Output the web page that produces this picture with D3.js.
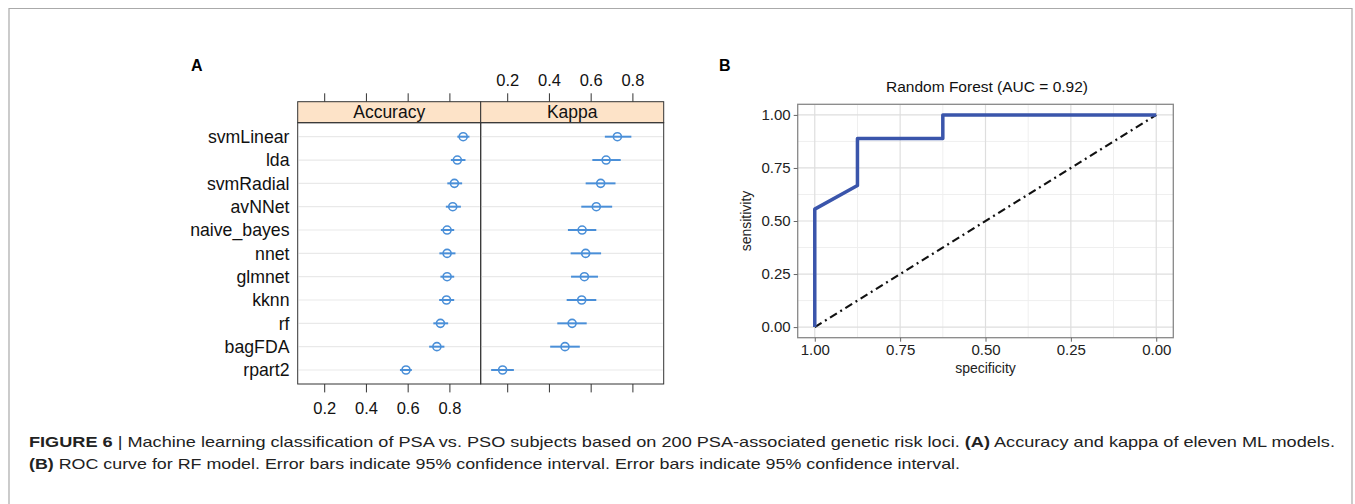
<!DOCTYPE html>
<html>
<head>
<meta charset="utf-8">
<script src="https://cdn.jsdelivr.net/npm/d3@7"></script>
<style>
  body { margin: 0; background: #fff; }
  svg { display: block; font-family: "Liberation Sans", Arial, sans-serif; }
</style>
</head>
<body>
<script>
//Model names, top to bottom.
var models = ["svmLinear", "lda", "svmRadial", "avNNet", "naive_bayes", "nnet", "glmnet", "kknn", "rf", "bagFDA", "rpart2"];

//Accuracy: point estimate and 95% CI.
var accMean = [0.866, 0.838, 0.824, 0.816, 0.789, 0.789, 0.789, 0.786, 0.757, 0.740, 0.592];
var accLow  = [0.838, 0.807, 0.790, 0.783, 0.759, 0.752, 0.757, 0.751, 0.723, 0.703, 0.563];
var accHigh = [0.896, 0.877, 0.861, 0.855, 0.823, 0.829, 0.823, 0.823, 0.794, 0.776, 0.620];

//Kappa: point estimate and 95% CI.
var kapMean = [0.728, 0.674, 0.648, 0.627, 0.559, 0.576, 0.570, 0.557, 0.511, 0.477, 0.178];
var kapLow  = [0.668, 0.608, 0.576, 0.555, 0.491, 0.504, 0.506, 0.485, 0.440, 0.406, 0.123];
var kapHigh = [0.795, 0.744, 0.719, 0.703, 0.627, 0.650, 0.635, 0.627, 0.581, 0.548, 0.232];

//Panel A tick values.
var dotTicks = [0.2, 0.4, 0.6, 0.8];

//ROC curve points (specificity, sensitivity).
var rocSpec = [1, 1, 0.875, 0.875, 0.625, 0.625, 0];
var rocSens = [0, 0.556, 0.667, 0.889, 0.889, 1, 1];

//Panel B tick values and labels.
var rocTicks = [0, 0.25, 0.5, 0.75, 1];
var rocTickLabels = ["0.00", "0.25", "0.50", "0.75", "1.00"];
var rocMinor = [0.125, 0.375, 0.625, 0.875];

var svg = d3.select("body").append("svg").attr("width", 1355).attr("height", 504);

//Outer frame (open at the bottom).
svg.append("path")
   .attr("d", "M9,504 V8.5 H1352 V504")
   .attr("fill", "none")
   .attr("stroke", "#aaa")
   .attr("stroke-width", 1.2);

//---------------- Panel A ----------------
svg.append("text").attr("x", 191).attr("y", 71).attr("font-size", 16).attr("font-weight", "bold").text("A");

var stripTop = 101.7, stripBottom = 122.7, panelBottom = 384;
var panelW = 183;
var panels = [
  {name: "Accuracy", x0: 297.7, mean: accMean, low: accLow, high: accHigh},
  {name: "Kappa", x0: 480.7, mean: kapMean, low: kapLow, high: kapHigh}
];

var xDot = d3.scaleLinear().domain([0.073, 0.950]).range([0, panelW]);
var yDot = d3.scalePoint().domain(models).range([stripBottom, panelBottom]).padding(0.6);
var dotColor = "#4a8fd8";

panels.forEach(function(p, i) {
  var g = svg.append("g").attr("transform", "translate(" + p.x0 + ",0)");

  //Row reference lines.
  g.selectAll(".ref").data(models).enter().append("line")
   .attr("x1", 1).attr("x2", panelW - 1)
   .attr("y1", function(d) { return yDot(d); })
   .attr("y2", function(d) { return yDot(d); })
   .attr("stroke", "#e9e9e9")
   .attr("stroke-width", 1.2);

  //Strip.
  g.append("rect")
   .attr("x", 0).attr("y", stripTop)
   .attr("width", panelW).attr("height", stripBottom - stripTop)
   .attr("fill", "#fde3c8")
   .attr("stroke", "#333");
  g.append("text")
   .attr("x", panelW / 2).attr("y", stripBottom - 4.5)
   .attr("text-anchor", "middle")
   .attr("font-size", 17.5)
   .attr("fill", "#111")
   .text(p.name);

  //Panel border.
  g.append("rect")
   .attr("x", 0).attr("y", stripBottom)
   .attr("width", panelW).attr("height", panelBottom - stripBottom)
   .attr("fill", "none")
   .attr("stroke", "#333");

  //Error bars.
  g.selectAll(".bar").data(models).enter().append("line")
   .attr("x1", function(d, j) { return xDot(p.low[j]); })
   .attr("x2", function(d, j) { return xDot(p.high[j]); })
   .attr("y1", function(d) { return yDot(d); })
   .attr("y2", function(d) { return yDot(d); })
   .attr("stroke", dotColor)
   .attr("stroke-width", 2);

  //Points.
  g.selectAll(".pt").data(models).enter().append("circle")
   .attr("cx", function(d, j) { return xDot(p.mean[j]); })
   .attr("cy", function(d) { return yDot(d); })
   .attr("r", 4)
   .attr("fill", "none")
   .attr("stroke", dotColor)
   .attr("stroke-width", 1.6);

  //Top axis (labels only above Kappa).
  var topAxis = d3.axisTop(xDot).tickValues(dotTicks).tickSize(8.4).tickPadding(7.5)
    .tickFormat(i === 1 ? d3.format(".1f") : function() { return ""; });
  var ta = g.append("g").attr("transform", "translate(0," + stripTop + ")").call(topAxis);

  //Bottom axis (labels only below Accuracy).
  var bottomAxis = d3.axisBottom(xDot).tickValues(dotTicks).tickSize(8.4).tickPadding(10)
    .tickFormat(i === 0 ? d3.format(".1f") : function() { return ""; });
  var ba = g.append("g").attr("transform", "translate(0," + panelBottom + ")").call(bottomAxis);

  [ta, ba].forEach(function(a) {
    a.select(".domain").remove();
    a.selectAll("line").attr("stroke", "#333");
    a.selectAll("text").attr("font-size", 16.5).attr("fill", "#111").attr("font-family", "Liberation Sans, Arial, sans-serif");
  });
});

//Model labels.
svg.append("g").selectAll("text").data(models).enter().append("text")
   .attr("x", 289.5)
   .attr("y", function(d) { return yDot(d) + 6.2; })
   .attr("text-anchor", "end")
   .attr("font-size", 17.7)
   .attr("fill", "#111")
   .text(function(d) { return d; });

//---------------- Panel B ----------------
svg.append("text").attr("x", 719).attr("y", 71).attr("font-size", 16).attr("font-weight", "bold").text("B");

var bLeft = 797.7, bRight = 1173.3, bTop = 104.3, bBottom = 337.7;
var xRoc = d3.scaleLinear().domain([1.05, -0.05]).range([bLeft, bRight]);
var yRoc = d3.scaleLinear().domain([-0.05, 1.05]).range([bBottom, bTop]);

var grid = svg.append("g");
//Minor grid.
rocMinor.forEach(function(v) {
  grid.append("line").attr("x1", xRoc(v)).attr("x2", xRoc(v)).attr("y1", bTop).attr("y2", bBottom)
      .attr("stroke", "#efefef").attr("stroke-width", 1);
  grid.append("line").attr("x1", bLeft).attr("x2", bRight).attr("y1", yRoc(v)).attr("y2", yRoc(v))
      .attr("stroke", "#efefef").attr("stroke-width", 1);
});
//Major grid.
rocTicks.forEach(function(v) {
  grid.append("line").attr("x1", xRoc(v)).attr("x2", xRoc(v)).attr("y1", bTop).attr("y2", bBottom)
      .attr("stroke", "#dedede").attr("stroke-width", 1.2);
  grid.append("line").attr("x1", bLeft).attr("x2", bRight).attr("y1", yRoc(v)).attr("y2", yRoc(v))
      .attr("stroke", "#dedede").attr("stroke-width", 1.2);
});

//Chance diagonal.
svg.append("line")
   .attr("x1", xRoc(1)).attr("y1", yRoc(0))
   .attr("x2", xRoc(0)).attr("y2", yRoc(1))
   .attr("stroke", "#111")
   .attr("stroke-width", 2.2)
   .attr("stroke-dasharray", "8,4,2,4");

//ROC curve.
var rocLine = d3.line()
  .x(function(d) { return xRoc(rocSpec[d]); })
  .y(function(d) { return yRoc(rocSens[d]); });
svg.append("path")
   .datum(d3.range(rocSpec.length))
   .attr("d", rocLine)
   .attr("fill", "none")
   .attr("stroke", "#3a55ab")
   .attr("stroke-width", 3.5)
   .attr("stroke-linejoin", "round");

//Panel border.
svg.append("rect")
   .attr("x", bLeft).attr("y", bTop)
   .attr("width", bRight - bLeft).attr("height", bBottom - bTop)
   .attr("fill", "none")
   .attr("stroke", "#888")
   .attr("stroke-width", 1.3);

//Axes.
var xAxisB = svg.append("g").attr("transform", "translate(0," + bBottom + ")")
   .call(d3.axisBottom(xRoc).tickValues(rocTicks).tickSize(4).tickPadding(3)
         .tickFormat(function(d) { return rocTickLabels[rocTicks.indexOf(d)]; }));
var yAxisB = svg.append("g").attr("transform", "translate(" + bLeft + ",0)")
   .call(d3.axisLeft(yRoc).tickValues(rocTicks).tickSize(4).tickPadding(3)
         .tickFormat(function(d) { return rocTickLabels[rocTicks.indexOf(d)]; }));
[xAxisB, yAxisB].forEach(function(a) {
  a.select(".domain").remove();
  a.selectAll("line").attr("stroke", "#666");
  a.selectAll("text").attr("font-size", 15).attr("fill", "#222").attr("font-family", "Liberation Sans, Arial, sans-serif");
});

//Titles.
svg.append("text")
   .attr("x", 987).attr("y", 91.5)
   .attr("text-anchor", "middle")
   .attr("font-size", 15.5)
   .attr("fill", "#111")
   .text("Random Forest (AUC = 0.92)");
svg.append("text")
   .attr("x", 985.5).attr("y", 372.5)
   .attr("text-anchor", "middle")
   .attr("font-size", 14)
   .attr("fill", "#222")
   .text("specificity");
svg.append("text")
   .attr("transform", "translate(751," + yRoc(0.5) + ") rotate(-90)")
   .attr("text-anchor", "middle")
   .attr("font-size", 14)
   .attr("fill", "#222")
   .text("sensitivity");

//---------------- Caption ----------------
var cap1 = svg.append("text")
   .attr("x", 29).attr("y", 446.5)
   .attr("font-size", 14.5)
   .attr("fill", "#222")
   .attr("textLength", 1306)
   .attr("lengthAdjust", "spacingAndGlyphs");
cap1.append("tspan").attr("font-weight", "bold").text("FIGURE 6");
cap1.append("tspan").text(" | Machine learning classification of PSA vs. PSO subjects based on 200 PSA-associated genetic risk loci. ");
cap1.append("tspan").attr("font-weight", "bold").text("(A)");
cap1.append("tspan").text(" Accuracy and kappa of eleven ML models.");

var cap2 = svg.append("text")
   .attr("x", 29).attr("y", 468.5)
   .attr("font-size", 14.5)
   .attr("fill", "#222")
   .attr("textLength", 931)
   .attr("lengthAdjust", "spacingAndGlyphs");
cap2.append("tspan").attr("font-weight", "bold").text("(B)");
cap2.append("tspan").text(" ROC curve for RF model. Error bars indicate 95% confidence interval. Error bars indicate 95% confidence interval.");
</script>
</body>
</html>
